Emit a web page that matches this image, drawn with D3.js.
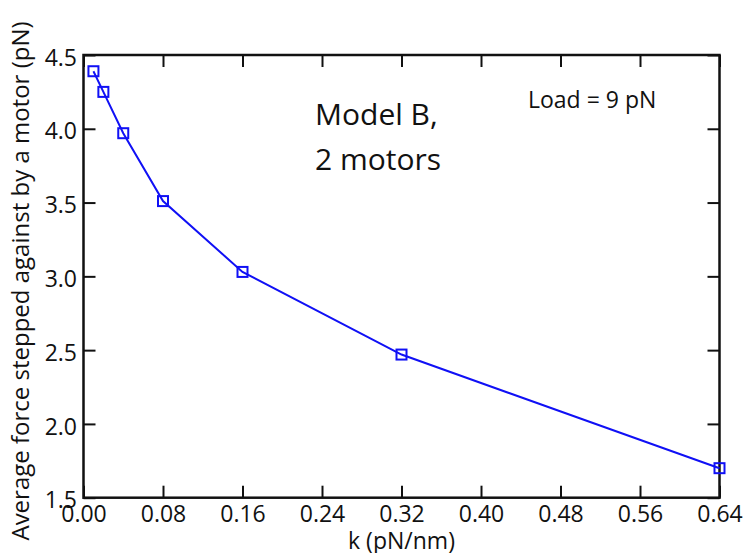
<!DOCTYPE html>
<html>
<head>
<meta charset="utf-8">
<script src="https://cdn.jsdelivr.net/npm/d3@7"></script>
<style>
  body { margin: 0; background: #fff; }
  text { font-family: "Open Sans", sans-serif; fill: #111; }
</style>
</head>
<body>
<script>
// chart size
const w = 746;
const h = 553;
const margin = { left: 83.5, right: 26.5, top: 55, bottom: 55.3 };

// data
const kValues = [0.01, 0.02, 0.04, 0.08, 0.16, 0.32, 0.64];
const forceValues = [4.39, 4.25, 3.97, 3.51, 3.03, 2.47, 1.70];
const xTicks = [0.00, 0.08, 0.16, 0.24, 0.32, 0.40, 0.48, 0.56, 0.64];
const yTicks = [1.5, 2.0, 2.5, 3.0, 3.5, 4.0, 4.5];
const points = kValues.map((k, i) => [k, forceValues[i]]);

const xScale = d3.scaleLinear()
    .domain([0, 0.64])
    .range([margin.left, w - margin.right]);
const yScale = d3.scaleLinear()
    .domain([1.5, 4.5])
    .range([h - margin.bottom, margin.top]);

const svg = d3.select("body").append("svg")
    .attr("width", w)
    .attr("height", h);

const lineColor = "#1010f5";
const tickLen = 12;

// bottom axis with labels
svg.append("g")
    .attr("transform", `translate(0,${yScale(1.5)})`)
    .call(d3.axisBottom(xScale).tickValues(xTicks).tickFormat(d3.format(".2f"))
        .tickSize(-tickLen).tickPadding(8))
    .call(g => g.select(".domain").remove())
    .call(g => g.selectAll("text").style("font-size", "23px"));

// left axis with labels
svg.append("g")
    .attr("transform", `translate(${xScale(0)},0)`)
    .call(d3.axisLeft(yScale).tickValues(yTicks).tickFormat(d3.format(".1f"))
        .tickSize(-tickLen).tickPadding(6.5))
    .call(g => g.select(".domain").remove())
    .call(g => g.selectAll("text").style("font-size", "23px").attr("dy", "0.44em"));

// mirrored ticks on top and right
svg.append("g")
    .attr("transform", `translate(0,${yScale(4.5)})`)
    .call(d3.axisTop(xScale).tickValues(xTicks).tickFormat("").tickSize(-tickLen))
    .call(g => g.select(".domain").remove());
svg.append("g")
    .attr("transform", `translate(${xScale(0.64)},0)`)
    .call(d3.axisRight(yScale).tickValues(yTicks).tickFormat("").tickSize(-tickLen))
    .call(g => g.select(".domain").remove());

svg.selectAll(".tick line")
    .attr("stroke", "#111")
    .attr("stroke-width", 2);

// frame
svg.append("rect")
    .attr("x", xScale(0))
    .attr("y", yScale(4.5))
    .attr("width", xScale(0.64) - xScale(0))
    .attr("height", yScale(1.5) - yScale(4.5))
    .attr("fill", "none")
    .attr("stroke", "#111")
    .attr("stroke-width", 2.5);

// line and markers
svg.append("path")
    .datum(points)
    .attr("fill", "none")
    .attr("stroke", lineColor)
    .attr("stroke-width", 2)
    .attr("d", d3.line().x(d => xScale(d[0])).y(d => yScale(d[1])));

const s = 10;
svg.selectAll("rect.marker")
    .data(points)
    .enter()
    .append("rect")
    .attr("class", "marker")
    .attr("x", d => xScale(d[0]) - s / 2)
    .attr("y", d => yScale(d[1]) - s / 2)
    .attr("width", s)
    .attr("height", s)
    .attr("fill", "none")
    .attr("stroke", lineColor)
    .attr("stroke-width", 2);

// axis titles
svg.append("text")
    .attr("x", (xScale(0) + xScale(0.64)) / 2)
    .attr("y", 549)
    .attr("text-anchor", "middle")
    .style("font-size", "23px")
    .text("k (pN/nm)");

svg.append("text")
    .attr("transform", "translate(29,281) rotate(-90)")
    .attr("text-anchor", "middle")
    .style("font-size", "24px")
    .text("Average force stepped against by a motor (pN)");

// annotations
svg.append("text")
    .attr("x", 315)
    .attr("y", 125)
    .style("font-size", "30px")
    .text("Model B,");
svg.append("text")
    .attr("x", 315)
    .attr("y", 170)
    .style("font-size", "30px")
    .text("2 motors");
svg.append("text")
    .attr("x", 528)
    .attr("y", 108)
    .style("font-size", "23px")
    .text("Load = 9 pN");
</script>
</body>
</html>
